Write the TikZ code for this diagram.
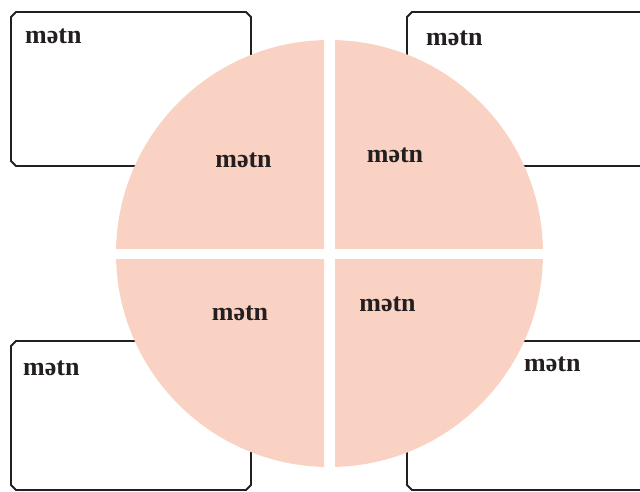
\documentclass[tikz,border=0pt]{standalone}
\usepackage{fontspec}
\setmainfont{Liberation Serif}
\definecolor{peach}{RGB}{250,210,195}
\definecolor{ink}{RGB}{35,31,32}
\tikzset{
  framebox/.style={rectangle, inner sep=0pt, outer sep=0pt},
  boxline/.style={draw=ink, line width=1.8pt, line join=miter},
  lbl/.style={font=\fontsize{26}{30}\selectfont\bfseries, text=ink, inner sep=0pt, anchor=base west},
  qlbl/.style={font=\fontsize{26}{30}\selectfont\bfseries, text=ink, inner sep=0pt, anchor=base}
}
\newcommand\chbox[1]{%
  \draw[boxline] ([xshift=5pt]#1.north west) -- ([xshift=-5pt]#1.north east)
    -- ([yshift=-5pt]#1.north east) -- ([yshift=5pt]#1.south east)
    -- ([xshift=-5pt]#1.south east) -- ([xshift=5pt]#1.south west)
    -- ([yshift=5pt]#1.south west) -- ([yshift=-5pt]#1.north west) -- cycle;}
\begin{document}
\begin{tikzpicture}[x=1pt,y=-1pt]
\useasboundingbox (0,0) rectangle (640,491);
\clip (0,0) rectangle (640,491);
% boxes
\node[framebox, minimum width=240pt, minimum height=154pt] (b1) at (131,89) {};
\node[framebox, minimum width=240pt, minimum height=154pt] (b2) at (527,89) {};
\node[framebox, minimum width=240pt, minimum height=149pt] (b3) at (131,415.5) {};
\node[framebox, minimum width=240pt, minimum height=149pt] (b4) at (527,415.5) {};
\chbox{b1}\chbox{b2}\chbox{b3}\chbox{b4}
% circle quadrants
\coordinate (c) at (329.5,253.5);
\begin{scope}
  \clip (0,0) rectangle (324,248);
  \fill[peach] (c) circle (213.5);
\end{scope}
\begin{scope}
  \clip (335,0) rectangle (640,248);
  \fill[peach] (c) circle (213.5);
\end{scope}
\begin{scope}
  \clip (0,259) rectangle (324,491);
  \fill[peach] (c) circle (213.5);
\end{scope}
\begin{scope}
  \clip (335,259) rectangle (640,491);
  \fill[peach] (c) circle (213.5);
\end{scope}
% box labels
\node[lbl] (t1) at (25,43) {mətn};
\node[lbl] (t2) at (426,45) {mətn};
\node[lbl] (t3) at (23,375) {mətn};
\node[lbl] (t4) at (524,371) {mətn};
% quadrant labels
\node[qlbl] (q1) at (243.5,167) {mətn};
\node[qlbl] (q2) at (395,162) {mətn};
\node[qlbl] (q3) at (240,320) {mətn};
\node[qlbl] (q4) at (387.5,311) {mətn};
\end{tikzpicture}
\end{document}
